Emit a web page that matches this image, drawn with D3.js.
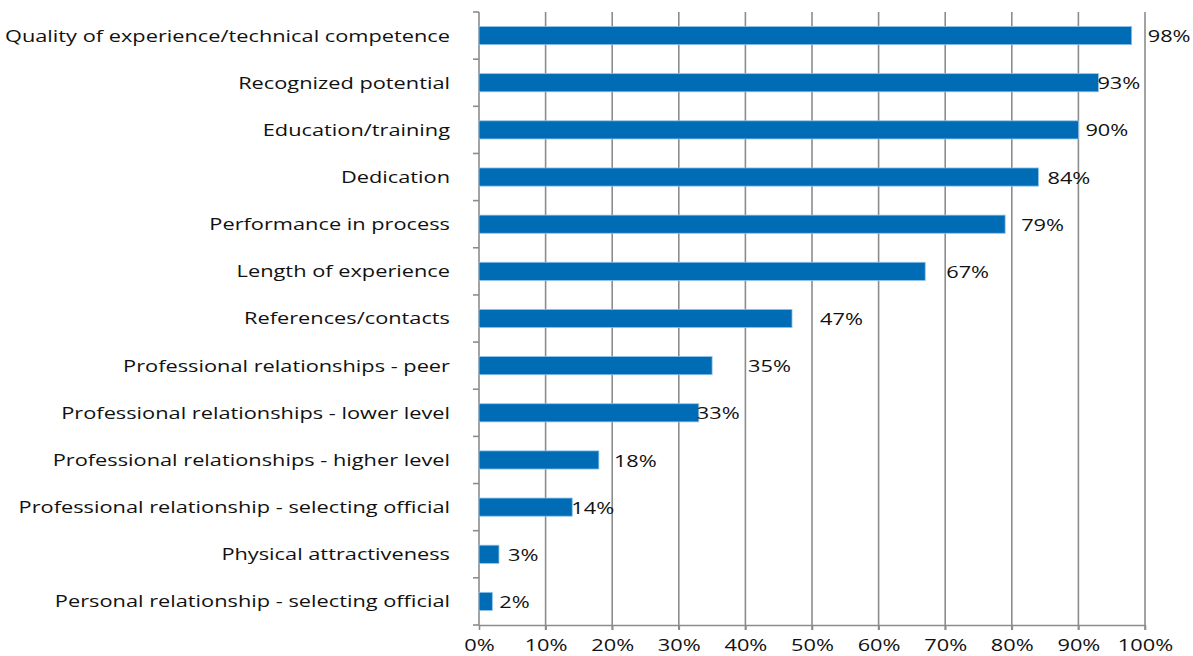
<!DOCTYPE html>
<html><head><meta charset="utf-8">
<script src="https://cdn.jsdelivr.net/npm/d3@7"></script>
<style>body{margin:0;background:#fff}svg{display:block}text{font-family:"Open Sans",sans-serif;fill:#111}</style>
</head><body><svg id="c" width="1193" height="656"></svg>
<script>
const categories = ["Quality of experience/technical competence","Recognized potential","Education/training","Dedication","Performance in process","Length of experience","References/contacts","Professional relationships - peer","Professional relationships - lower level","Professional relationships - higher level","Professional relationship - selecting official","Physical attractiveness","Personal relationship - selecting official"];
const values = [98,93,90,84,79,67,47,35,33,18,14,3,2];
const xTicks = [0,10,20,30,40,50,60,70,80,90,100];
const labelNudge = [16,-1,7,9,16,21,28,36,-2,15,-1,9,7];

const SX = 1.32; // horizontal stretch of the lettering
const FS = 16.5;
const svg = d3.select("#c");
const m = {l:479, r:1145, t:12, b:625};
const x = d3.scaleLinear().domain([0,100]).range([m.l, m.r]);
const y = d3.scaleBand().domain(categories).range([m.t, m.b]).paddingInner(0.615).paddingOuter(0.3075);
const step = y.step();
const grid = "#8c8c8c";

// gridlines
svg.append("g").selectAll("line").data(xTicks.slice(1)).join("line")
  .attr("x1", d=>x(d)).attr("x2", d=>x(d)).attr("y1", m.t).attr("y2", m.b+5)
  .attr("stroke",grid).attr("stroke-width",1.6);

// x axis
const xa = svg.append("g").attr("transform",`translate(0,${m.b})`)
  .call(d3.axisBottom(x).tickValues(xTicks).tickFormat(d=>d+"%").tickSize(5).tickSizeOuter(0));
xa.select(".domain").attr("stroke",grid).attr("stroke-width",1.6);
xa.selectAll(".tick line").attr("stroke",grid).attr("stroke-width",1.6);
xa.selectAll(".tick text").remove();
xa.selectAll(".tick").append("text")
  .attr("transform",`translate(0,20) scale(${SX},1)`).attr("dy","0.36em")
  .attr("text-anchor","middle").attr("font-size",FS).text(d=>d+"%");

// y axis with boundary ticks
const bounds = d3.range(categories.length+1).map(i=>m.t + i*step);
svg.append("g").selectAll("line").data(bounds).join("line")
  .attr("x1", m.l-6).attr("x2", m.l).attr("y1", d=>d).attr("y2", d=>d)
  .attr("stroke",grid).attr("stroke-width",1.6);
svg.append("line").attr("x1",m.l).attr("x2",m.l).attr("y1",m.t).attr("y2",m.b)
  .attr("stroke",grid).attr("stroke-width",1.6);

// category labels
svg.append("g").selectAll("text").data(categories).join("text")
  .attr("transform", d=>`translate(${m.l-29},${y(d)+y.bandwidth()/2}) scale(${SX},1)`).attr("dy","0.36em")
  .attr("text-anchor","end").attr("font-size",FS).text(d=>d);

// bars
svg.append("g").selectAll("rect").data(values).join("rect")
  .attr("x", x(0)).attr("y",(d,i)=>y(categories[i]))
  .attr("width", d=>x(d)-x(0)).attr("height", y.bandwidth())
  .attr("fill","#006cb6").attr("stroke","#8fc3ea").attr("stroke-width",0.8);

// value labels
svg.append("g").selectAll("text").data(values).join("text")
  .attr("transform",(d,i)=>`translate(${x(d)+labelNudge[i]},${y(categories[i])+y.bandwidth()/2}) scale(${SX},1)`).attr("dy","0.4em")
  .attr("font-size",FS).text(d=>d+"%");
</script></body></html>
